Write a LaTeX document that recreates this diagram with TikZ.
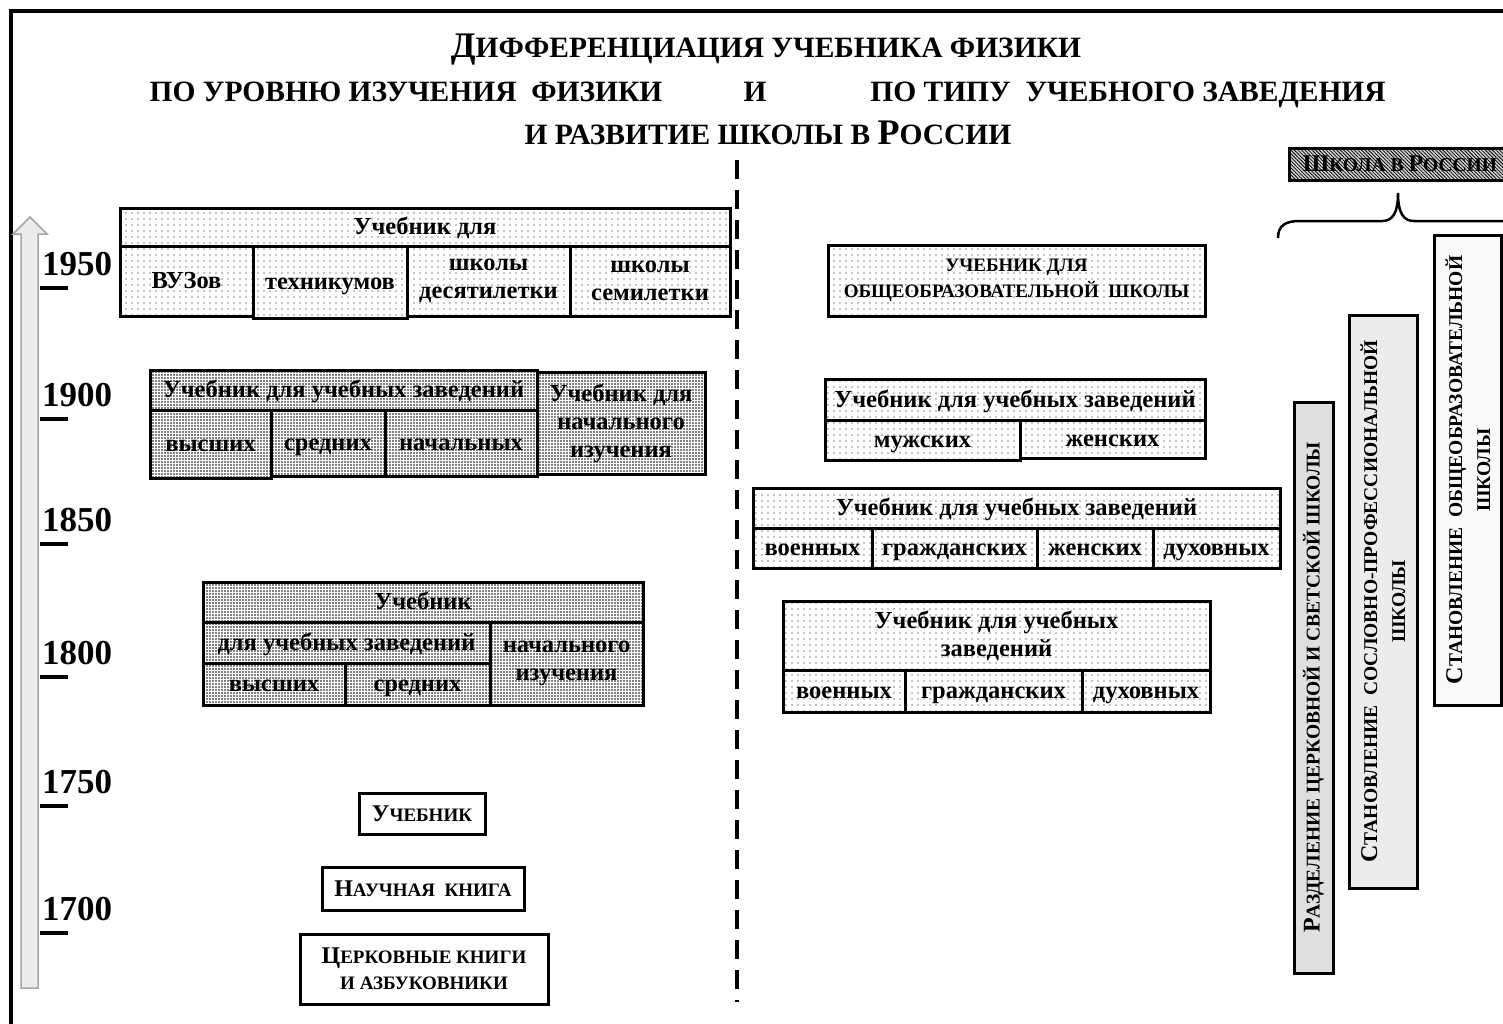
\documentclass[tikz,border=0pt]{standalone}
\usepackage{fontspec}
\setmainfont{Liberation Serif}
\usetikzlibrary{patterns.meta}
\newcommand\Bg[1]{{\fontsize{24}{24}\selectfont #1}}
\newcommand\Bt[1]{{\fontsize{36}{36}\selectfont #1}}
\begin{document}
\begin{tikzpicture}[x=1pt,y=-1pt,
  cell/.style={draw, line width=3pt, inner sep=0pt, align=center,
    font=\bfseries\fontsize{24.5}{28}\selectfont},
  one/.style={text height=19pt, text depth=4pt},
  sccell/.style={draw, line width=3pt, inner sep=0pt, align=center,
    font=\bfseries\fontsize{19}{26}\selectfont},
  lt/.style={preaction={fill=white}, pattern={Dots[radius=0.55pt,distance=6pt]}},
  dk/.style={preaction={fill=white}, pattern={Dots[radius=0.8pt,distance=3pt]}},
  bar/.style={draw, line width=3pt, inner sep=0pt, align=center, rotate=90,
    font=\bfseries\fontsize{19.5}{28}\selectfont},
  title/.style={anchor=base, inner sep=0pt, font=\bfseries\fontsize{29.5}{29.5}\selectfont},
  year/.style={anchor=base west, inner sep=0pt, font=\bfseries\fontsize{35}{35}\selectfont},
  tick/.style={line width=4pt},
  sep/.style={line width=4pt, dash pattern=on 19pt off 11pt}
]
\useasboundingbox (0,0) rectangle (1503,1023);
\fill[white] (0,0) rectangle (1503,1023);
% frame
\draw[line width=4pt] (11,1040) -- (11,11) -- (1520,11);

% titles
\node[title] (t1) at (766,57) {\Bt{Д}ИФФЕРЕНЦИАЦИЯ УЧЕБНИКА ФИЗИКИ};
\node[title] (t2a) at (406,101) {ПО УРОВНЮ ИЗУЧЕНИЯ\ \ ФИЗИКИ};
\node[title] (t2b) at (755,101) {И};
\node[title] (t2c) at (1128,101) {ПО ТИПУ\ \ УЧЕБНОГО ЗАВЕДЕНИЯ};
\node[title] (t3) at (768,144) {И РАЗВИТИЕ ШКОЛЫ В \Bt{Р}ОССИИ};

% separator
\coordinate (s1) at (737,160);
\coordinate (s2) at (737,1002);
\draw[sep] (s1) -- (s2);

% timeline arrow
\draw[fill=gray!15, draw=gray!70, line width=1.5pt]
  (21,988) -- (21,234) -- (13,234) -- (30,217) -- (47,234) -- (38,234) -- (38,988) -- cycle;
\foreach \y/\lab in {288/1950,419/1900,544/1850,677/1800,806/1750,933/1700}{
  \draw[tick] (40,\y) -- (68,\y);
  \node[year] (y\lab) at (42,\y-13) {\lab};
}

% ---- left 1950
\node[cell, one, lt, minimum width=610, minimum height=38] (h50) at (425,227) {Учебник для};
\node[cell, one, lt, minimum width=133, minimum height=70] (vuz) at (186.5,281) {ВУЗов};
\node[cell, one, lt, minimum width=154, minimum height=72] (tech) at (330,282) {техникумов};
\node[cell, lt, minimum width=163, minimum height=70] (des) at (488.5,281) {школы\\десятилетки};
\node[cell, lt, minimum width=160, minimum height=70] (sem) at (650,281) {школы\\семилетки};

% ---- left 1900
\node[cell, one, dk, minimum width=387, minimum height=40] (h00) at (343.5,390) {Учебник для учебных заведений};
\node[cell, one, dk, minimum width=121, minimum height=68] (vys) at (210.5,444) {высших};
\node[cell, one, dk, minimum width=114, minimum height=66] (sred) at (328,443) {средних};
\node[cell, one, dk, minimum width=152, minimum height=66] (nach) at (461,443) {начальных};
\node[cell, dk, minimum width=168, minimum height=102] (nachiz) at (621,423) {Учебник для\\начального\\изучения};

% ---- left 1800
\node[cell, one, dk, minimum width=440, minimum height=40] (h18) at (423,602) {Учебник};
\node[cell, one, dk, minimum width=287, minimum height=41] (dlya) at (346.5,642.5) {для учебных заведений};
\node[cell, one, dk, minimum width=142, minimum height=42] (vys18) at (274,684) {высших};
\node[cell, one, dk, minimum width=145, minimum height=42] (sred18) at (417.5,684) {средних};
\node[cell, dk, minimum width=153, minimum height=83] (nach18) at (566.5,663.5) {начального\\изучения};

% ---- bottom boxes
\node[sccell, fill=white, minimum width=126, minimum height=41] (ucheb) at (422,813.5) {\Bg{У}ЧЕБНИК};
\node[sccell, fill=white, minimum width=202, minimum height=43] (nauch) at (423,888.5) {\Bg{Н}АУЧНАЯ\ \ КНИГА};
\node[sccell, fill=white, minimum width=248, minimum height=70] (tserk) at (424,969) {\Bg{Ц}ЕРКОВНЫЕ КНИГИ\\И АЗБУКОВНИКИ};

% ---- right 1950
\node[sccell, lt, minimum width=377, minimum height=71] (obsh) at (1016.5,280.5) {УЧЕБНИК ДЛЯ\\ОБЩЕОБРАЗОВАТЕЛЬНОЙ\ \ ШКОЛЫ};

% ---- right 1900
\node[cell, one, lt, minimum width=380, minimum height=41] (hR00) at (1015,399.5) {Учебник для учебных заведений};
\node[cell, one, lt, minimum width=195, minimum height=40] (muzh) at (922.5,440) {мужских};
\node[cell, one, lt, minimum width=185, minimum height=38] (zhen) at (1112.5,439) {женских};

% ---- right 1850
\node[cell, one, lt, minimum width=527, minimum height=40] (hR50) at (1016.5,508) {Учебник для учебных заведений};
\node[cell, one, lt, minimum width=119, minimum height=40] (voen1) at (812.5,548) {военных};
\node[cell, one, lt, minimum width=165, minimum height=40] (grazh1) at (954.5,548) {гражданских};
\node[cell, one, lt, minimum width=116, minimum height=40] (zhen1) at (1095,548) {женских};
\node[cell, one, lt, minimum width=127, minimum height=40] (dukh1) at (1216.5,548) {духовных};

% ---- right 1800
\node[cell, lt, minimum width=427, minimum height=69] (hR18) at (996.5,635.5) {Учебник для учебных\\заведений};
\node[cell, one, lt, minimum width=122, minimum height=42] (voen2) at (844,691) {военных};
\node[cell, one, lt, minimum width=177, minimum height=42] (grazh2) at (993.5,691) {гражданских};
\node[cell, one, lt, minimum width=128, minimum height=42] (dukh2) at (1146,691) {духовных};

% ---- school in Russia
\node[draw, line width=3pt, inner sep=0pt, minimum width=222, minimum height=32,
  preaction={fill=gray!35}, pattern={Lines[angle=-45,distance=2.5pt,line width=0.8pt]},
  font=\bfseries\fontsize{19.5}{19.5}\selectfont] (sch) at (1400,164) {\Bg{Ш}КОЛА В \Bg{Р}ОССИИ};
\coordinate (br0) at (1278,238);
\coordinate (brt) at (1398,193);
\coordinate (br1) at (1515,221);
\draw[line width=2.5pt] (br0) .. controls (1278,225) and (1286,221) .. (1300,221) -- (1382,221)
  .. controls (1392,221) and (1398,214) .. (brt)
  .. controls (1398,214) and (1404,221) .. (1414,221) -- (br1);

% bars
\node[bar, fill=gray!25, minimum width=571, minimum height=39] (b1) at (1313.5,687.5)
  {\Bg{Р}АЗДЕЛЕНИЕ ЦЕРКОВНОЙ И СВЕТСКОЙ ШКОЛЫ};
\node[bar, fill=gray!15, minimum width=573, minimum height=68] (b2) at (1383,601.5)
  {\Bg{С}ТАНОВЛЕНИЕ\ \ СОСЛОВНО-ПРОФЕССИОНАЛЬНОЙ\\ШКОЛЫ};
\node[bar, fill=gray!5, minimum width=470, minimum height=67] (b3) at (1468,470)
  {\Bg{С}ТАНОВЛЕНИЕ\ \ ОБЩЕОБРАЗОВАТЕЛЬНОЙ\\ШКОЛЫ};
\end{tikzpicture}
\end{document}
